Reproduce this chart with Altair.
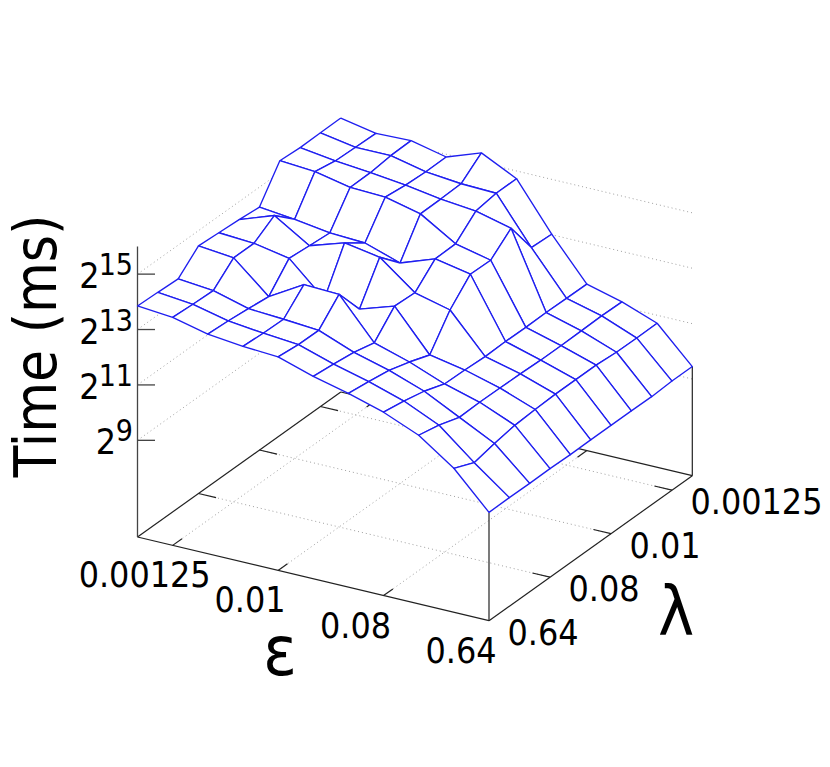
import altair as alt
import pandas as pd

# log2(time in ms); rows: lambda index 0..10 (0.00125-side first), columns: epsilon index 0..10
LOG2_TIME = [
    [15.40, 15.15, 15.19, 14.90, 15.35, 14.72, 13.02, 11.52, 11.18, 10.71, 9.45],
    [15.39, 15.17, 15.17, 14.89, 14.76, 14.72, 13.06, 11.53, 11.20, 10.70, 9.45],
    [15.38, 15.20, 15.08, 14.93, 14.73, 14.60, 14.28, 11.54, 11.18, 10.71, 9.41],
    [15.43, 15.34, 15.07, 15.02, 14.72, 13.94, 13.65, 11.53, 11.17, 10.77, 9.42],
    [14.28, 14.14, 13.95, 13.89, 13.47, 13.92, 13.67, 11.54, 11.17, 10.77, 9.42],
    [14.35, 14.80, 14.01, 14.42, 14.20, 13.22, 12.90, 11.52, 11.20, 10.77, 9.42],
    [14.40, 14.32, 14.08, 12.91, 12.85, 13.26, 11.80, 11.56, 11.21, 10.74, 9.41],
    [14.45, 14.32, 13.22, 13.96, 13.91, 12.46, 12.07, 11.58, 11.22, 10.69, 9.43],
    [13.78, 13.66, 13.31, 13.23, 13.13, 12.64, 12.29, 11.84, 11.20, 10.56, 9.42],
    [13.82, 13.69, 13.39, 13.25, 13.14, 12.74, 12.41, 12.01, 11.44, 10.39, 9.43],
    [13.85, 13.74, 13.44, 13.30, 13.22, 12.82, 12.51, 12.13, 11.60, 10.71, 9.42],
]
TICK_LABELS = ["0.00125", "0.01", "0.08", "0.64"]
TICK_INDEX = [1, 4, 7, 10]
Z_EXPONENTS = [9, 11, 13, 15]
TITLE_Z = "Time (ms)"
TITLE_E = "ε"
TITLE_L = "λ"

FONT = "DejaVu Sans Condensed, DejaVu Sans"
BLUE = "#1f1ff0"

# view projection of the gnuplot-style 3D box
BX, BY = 340.8, 392.0
EX, EY = 35.15, 8.37
LX, LY = -20.33, 14.5
ZU, Z0 = 27.7, 5.51


def proj(i, j, z=Z0):
    return BX + EX * i + LX * j, BY + EY * i + LY * j - ZU * (z - Z0)


# surface quads, back to front
rows = []
q = 0
for j in range(10):
    for i in range(10):
        corners = [(i, j), (i + 1, j), (i + 1, j + 1), (i, j + 1), (i, j)]
        for v, (a, b) in enumerate(corners):
            x, y = proj(a, b, LOG2_TIME[b][a])
            rows.append({"x": x, "y": y, "q": q, "v": v})
        q += 1
surface = pd.DataFrame(rows)


def seg(p, r):
    return {"x": p[0], "y": p[1], "x2": r[0], "y2": r[1]}


dots = []
for k in TICK_INDEX[:3]:
    dots.append(seg(proj(k, 10), proj(k, 0)))
    dots.append(seg(proj(0, k), proj(10, k)))
for e in Z_EXPONENTS:
    dots.append(seg(proj(0, 10, e), proj(0, 0, e)))
    dots.append(seg(proj(0, 0, e), proj(10, 0, e)))
dots = pd.DataFrame(dots)

box = [
    seg(proj(0, 10), proj(10, 10)),
    seg(proj(10, 10), proj(10, 0)),
    seg(proj(0, 10), proj(0, 0)),
    seg(proj(0, 0), proj(10, 0)),
    seg(proj(10, 10), proj(10, 10, LOG2_TIME[10][10])),
    seg(proj(10, 0), proj(10, 0, LOG2_TIME[0][10])),
]
for k in TICK_INDEX[:3]:
    a = proj(k, 10)
    box.append(seg(a, (a[0] - 0.46 * LX, a[1] - 0.46 * LY)))
    a = proj(k, 0)
    box.append(seg(a, (a[0] + 0.46 * LX, a[1] + 0.46 * LY)))
    a = proj(0, k)
    box.append(seg(a, (a[0] + 0.5 * EX, a[1] + 0.5 * EY)))
    a = proj(10, k)
    box.append(seg(a, (a[0] - 0.5 * EX, a[1] - 0.5 * EY)))
box = pd.DataFrame(box)

zx, zy0 = proj(0, 10)
zaxis = [seg((zx, zy0), (zx, proj(0, 10, 16.0)[1]))]
for e in Z_EXPONENTS:
    y = proj(0, 10, e)[1]
    zaxis.append(seg((zx, y), (zx + 17.5, y)))
zaxis = pd.DataFrame(zaxis)

e_labels = []
l_labels = []
for k, t in zip(TICK_INDEX, TICK_LABELS):
    a = proj(k, 10)
    e_labels.append({"x": a[0] - 28, "y": a[1] + 42, "t": t})
    a = proj(10, k)
    l_labels.append({"x": a[0] + 18.5, "y": a[1] + 24, "t": t})
e_labels = pd.DataFrame(e_labels)
l_labels = pd.DataFrame(l_labels)

z_base = []
z_exp = []
for e in Z_EXPONENTS:
    y = proj(0, 10, e)[1]
    z_base.append({"x": 99.5 if e >= 10 else 116, "y": y + 14, "t": "2"})
    z_exp.append({"x": 133, "y": y + 1, "t": str(e)})
z_base = pd.DataFrame(z_base)
z_exp = pd.DataFrame(z_exp)

X = alt.X("x:Q", axis=None, scale=alt.Scale(domain=[8, 822], nice=False, zero=False))
Y = alt.Y("y:Q", axis=None, scale=alt.Scale(domain=[759, 8], nice=False, zero=False))


def rule(df, **kw):
    return alt.Chart(df).mark_rule(**kw).encode(x=X, y=Y, x2="x2:Q", y2="y2:Q")


def text(df, **kw):
    return alt.Chart(df).mark_text(font=FONT, color="#000000", baseline="alphabetic", **kw).encode(
        x=X, y=Y, text="t:N"
    )


def single(x, y, t):
    return pd.DataFrame([{"x": x, "y": y, "t": t}])


layers = [
    rule(dots, color="#a0a0a0", strokeWidth=1, strokeDash=[1, 3]),
    rule(box, color="#222222", strokeWidth=1.2),
    rule(zaxis, color="#444444", strokeWidth=1.3),
    alt.Chart(surface)
    .mark_line(fill="white", stroke=BLUE, strokeWidth=1.35, strokeJoin="round")
    .encode(x=X, y=Y, detail="q:N", order=alt.Order("v:Q")),
    text(e_labels, fontSize=35.5, align="center"),
    text(l_labels, fontSize=35.5, align="left"),
    text(z_base, fontSize=35.5, align="right"),
    text(z_exp, fontSize=30, align="right"),
    text(single(56, 346, TITLE_Z), fontSize=58, align="center", angle=270),
    text(single(280, 675, TITLE_E), fontSize=70, align="center"),
    text(single(676, 635, TITLE_L), fontSize=68, align="center"),
]

chart = (
    alt.layer(*layers)
    .properties(width=814, height=751, padding=0, autosize=alt.AutoSizeParams(type="none"), background="white")
    .configure_view(stroke=None)
)
chart.save("out.html", embed_options={"renderer": "svg", "actions": False})
